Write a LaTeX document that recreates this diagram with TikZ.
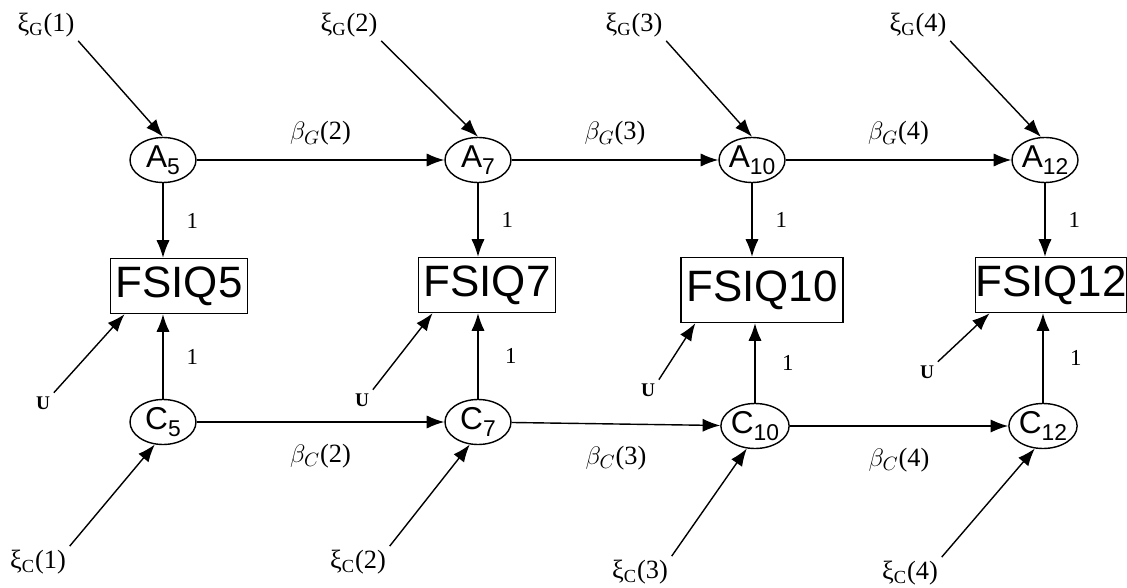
\documentclass[tikz,border=0pt]{standalone}
\usepackage{fontspec}
\setmainfont{Liberation Serif}
\setsansfont{Liberation Sans}
\usetikzlibrary{shapes.geometric,arrows.meta}

% lowered index inside the ellipses
\newcommand{\lsub}[1]{\raisebox{-0.45ex}{\fontsize{13}{13}\selectfont #1}}

\begin{document}
\begin{tikzpicture}[
        x=0.02cm, y=-0.02cm,
        latent/.style = {ellipse, draw, line width=0.8pt, minimum width=1.32cm, minimum height=0.9cm, inner sep=0pt, font=\sffamily\fontsize{18}{18}\selectfont},
        manifest/.style = {rectangle, draw, line width=0.8pt, minimum height=1.1cm, inner xsep=3pt, font=\sffamily\fontsize{25}{25}\selectfont},
        lab/.style = {inner sep=2pt, font=\fontsize{15}{15}\selectfont},
        one/.style = {inner sep=1pt, font=\fontsize{13}{13}\selectfont},
        err/.style = {inner sep=2pt, font=\bfseries\fontsize{11}{11}\selectfont},
        path/.style = {->, line width=0.8pt},
        >={Latex[length=10pt,width=7.5pt]}
        ]

        \useasboundingbox (0,0) rectangle (1127,588);

        % latent factors
        \node (A5) at (163,160)  [latent] {A\lsub{5}};
        \node (A7) at (478,160)  [latent] {A\lsub{7}};
        \node (A10) at (752,160) [latent] {A\lsub{10}};
        \node (A12) at (1045,160) [latent] {A\lsub{12}};
        \node (C5) at (163,422)  [latent] {C\lsub{5}};
        \node (C7) at (478,422)  [latent] {C\lsub{7}};
        \node (C10) at (755,426) [latent] {C\lsub{10}};
        \node (C12) at (1043,426) [latent] {C\lsub{12}};

        % observed scores
        \node (F5) at (179,286)  [manifest] {FSIQ5};
        \node (F7) at (487,285)  [manifest] {FSIQ7};
        \node (F10) at (762,290) [manifest, minimum height=1.3cm] {FSIQ10};
        \node (F12) at (1051,285) [manifest, inner xsep=0pt] {FSIQ12};

        % innovations
        \node (xiG1) at (46,25)  [lab] {ξ\textsubscript{G}(1)};
        \node (xiG2) at (349,25) [lab] {ξ\textsubscript{G}(2)};
        \node (xiG3) at (634,25) [lab] {ξ\textsubscript{G}(3)};
        \node (xiG4) at (918,25) [lab] {ξ\textsubscript{G}(4)};
        \node (xiC1) at (38,562)  [lab] {ξ\textsubscript{C}(1)};
        \node (xiC2) at (358,562) [lab] {ξ\textsubscript{C}(2)};
        \node (xiC3) at (640,572) [lab] {ξ\textsubscript{C}(3)};
        \node (xiC4) at (910,573) [lab] {ξ\textsubscript{C}(4)};

        % residuals
        \node (U5) at (43,403)  [err] {U};
        \node (U7) at (362,400) [err] {U};
        \node (U10) at (648,390) [err] {U};
        \node (U12) at (927,372) [err] {U};

        \draw[path] (xiG1.south east) -- (A5.north);
        \draw[path] (xiG2.south east) -- (A7.north);
        \draw[path] (xiG3.south east) -- (A10.north);
        \draw[path] (xiG4.south east) -- (A12.100);
        \draw[path] (xiC1.north east) -- (C5.250);
        \draw[path] (xiC2.north east) -- (C7.250);
        \draw[path] (xiC3.north east) -- (C10.250);
        \draw[path] (xiC4.north east) -- (C12.250);

        \draw[path] (U5.north east) -- ([xshift=0.3cm]F5.south west);
        \draw[path] (U7.north east) -- ([xshift=0.3cm]F7.south west);
        \draw[path] (U10.north east) -- ([xshift=0.3cm]F10.south west);
        \draw[path] (U12.north east) -- ([xshift=0.3cm]F12.south west);

        % loadings
        \draw[path] (A5.south) -- (A5.south |- F5.north) node[midway, right=12pt, one] {1};
        \draw[path] (A7.south) -- (A7.south |- F7.north) node[midway, right=12pt, one] {1};
        \draw[path] (A10.south) -- (A10.south |- F10.north) node[midway, right=12pt, one] {1};
        \draw[path] (A12.south) -- (A12.south |- F12.north) node[midway, right=12pt, one] {1};
        \draw[path] (C5.north) -- (C5.north |- F5.south) node[midway, right=12pt, one] {1};
        \draw[path] (C7.north) -- (C7.north |- F7.south) node[midway, right=14pt, one] {1};
        \draw[path] (C10.north) -- (C10.north |- F10.south) node[midway, right=14pt, one] {1};
        \draw[path] (C12.north) -- (C12.north |- F12.south) node[midway, right=14pt, one] {1};

        % autoregressions
        \draw[path] (A5) -- (A7) node[midway, above=6pt, lab] {$\beta_G$(2)};
        \draw[path] (A7) -- (A10) node[midway, above=6pt, lab] {$\beta_G$(3)};
        \draw[path] (A10) -- (A12) node[midway, above=6pt, lab] {$\beta_G$(4)};
        \draw[path] (C5) -- (C7) node[midway, below=10pt, lab] {$\beta_C$(2)};
        \draw[path] (C7) -- (C10) node[midway, below=10pt, lab] {$\beta_C$(3)};
        \draw[path] (C10) -- (C12) node[midway, below=10pt, lab] {$\beta_C$(4)};
    \end{tikzpicture}
\end{document}
